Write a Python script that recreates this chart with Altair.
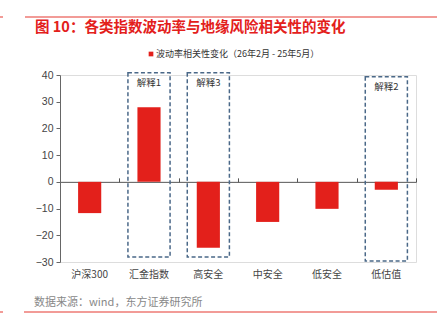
import altair as alt
import pandas as pd

categories = ["沪深300", "汇金指数", "高安全", "中安全", "低安全", "低估值"]
values = [-11.7, 27.9, -24.7, -15.0, -10.1, -3.0]

box_cats = ["汇金指数", "高安全", "低估值"]
box_top = [40.8, 40.8, 39.3]
box_bottom = [-28.1, -28.1, -29.6]
box_labels = ["解释1", "解释3", "解释2"]
box_label_y = [37.0, 37.0, 35.5]

y_ticks = [-30, -20, -10, 0, 10, 20, 30, 40]

title_text = "图 10：各类指数波动率与地缘风险相关性的变化"
legend_text = "波动率相关性变化（26年2月 - 25年5月）"
source_text = "数据来源：wind，东方证券研究所"

W, H = 356, 187
X0, Y0 = 60, 75
RED = "#E3201B"
LINE_RED = "#EE7A74"
FONT = "Noto Sans CJK SC"


df = pd.DataFrame({"cat": categories, "val": values})
bdf = pd.DataFrame({"cat": box_cats, "top": box_top, "bottom": box_bottom,
                    "label": box_labels, "ly": box_label_y})

xscale = alt.Scale(domain=categories, paddingInner=0, paddingOuter=0)
yscale = alt.Scale(domain=[-30, 40], nice=False)


def yaxis():
    return alt.Axis(title=None, values=y_ticks, grid=False, domainColor="#666666",
                    tickColor="#666666", tickSize=4, labelFontSize=10.5,
                    labelColor="#444444", labelPadding=3, labelFont="Liberation Sans",
                    labelOverlap=False, labelFlush=False)


bars = alt.Chart(df).mark_bar(width=alt.RelativeBandSize(0.39), color=RED).encode(
    x=alt.X("cat:N", scale=xscale, sort=categories,
            axis=alt.Axis(orient="bottom", title=None, domain=False, ticks=False,
                          labelAngle=0, labelPadding=7, labelFontSize=10,
                          labelColor="#444444", labelFont=FONT, labelOverlap=False)),
    y=alt.Y("val:Q", scale=yscale, axis=yaxis()),
)

zero_axis = alt.Chart(bdf).mark_bar(
    width=alt.RelativeBandSize(0.71), fillOpacity=0, stroke="#4A6888",
    strokeDash=[4, 2.5], strokeWidth=1.5,
).encode(
    x=alt.X("cat:N", scale=xscale, sort=categories,
            axis=alt.Axis(orient="top", title=None, labels=False, tickBand="extent",
                          tickSize=4, tickColor="#555555", domainColor="#555555",
                          offset=-(H * 40 / 70))),
    y=alt.Y("top:Q", scale=yscale, axis=yaxis()),
    y2="bottom:Q",
)

box_text = alt.Chart(bdf).mark_text(fontSize=9.5, color="#333333", font=FONT).encode(
    x=alt.X("cat:N", scale=xscale, sort=categories, axis=None),
    y=alt.Y("ly:Q", scale=yscale, axis=yaxis()),
    text="label:N",
)

deco = pd.DataFrame({"k": [0]})
base = alt.Chart(deco)

title = base.mark_text(align="left", baseline="middle", fontSize=14.5, fontWeight="bold",
                       color=RED, font=FONT).encode(
    x=alt.value(35 - X0), y=alt.value(28 - Y0), text=alt.value(title_text))
legend_sq = base.mark_square(size=22, color=RED, opacity=1).encode(
    x=alt.value(151 - X0), y=alt.value(54 - Y0))
legend_tx = base.mark_text(align="left", baseline="middle", fontSize=9, color="#333333",
                           font=FONT).encode(
    x=alt.value(156 - X0), y=alt.value(54 - Y0), text=alt.value(legend_text))
source = base.mark_text(align="left", baseline="middle", fontSize=11, color="#888888",
                        font=FONT).encode(
    x=alt.value(34 - X0), y=alt.value(303 - Y0), text=alt.value(source_text))
top_line = base.mark_rule(color=LINE_RED, strokeWidth=1.5).encode(
    x=alt.value(25 - X0), x2=alt.value(437 - X0), y=alt.value(17 - Y0))
top_stub = base.mark_rule(color=LINE_RED, strokeWidth=1.5).encode(
    x=alt.value(0 - X0), x2=alt.value(3 - X0), y=alt.value(17 - Y0))
bot_line = base.mark_rule(color=LINE_RED, strokeWidth=1.5).encode(
    x=alt.value(24 - X0), x2=alt.value(437 - X0), y=alt.value(312 - Y0))
bot_stub = base.mark_rule(color=LINE_RED, strokeWidth=1.5).encode(
    x=alt.value(0 - X0), x2=alt.value(3 - X0), y=alt.value(312 - Y0))

chart = alt.layer(
    bars, zero_axis, box_text, title, legend_sq, legend_tx, source,
    top_line, top_stub, bot_line, bot_stub,
).resolve_axis(x="independent").properties(
    width=W, height=H,
    autosize=alt.AutoSizeParams(type="none"),
    padding={"left": X0, "top": Y0, "right": 437 - X0 - W, "bottom": 329 - Y0 - H},
).configure_view(stroke=None).configure(background="white")

chart.save("out.html", embed_options={"renderer": "svg", "actions": False})
